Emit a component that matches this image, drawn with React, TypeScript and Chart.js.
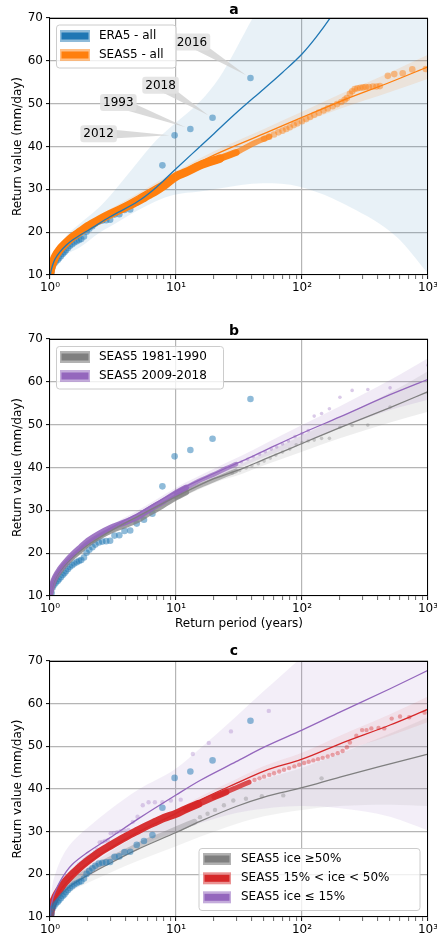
import React, { useEffect, useRef } from "react";
import { Chart, registerables } from "chart.js";
Chart.register(...registerables);

const FONT = "'DejaVu Sans', 'Liberation Sans', sans-serif";
Chart.defaults.font.family = FONT;
Chart.defaults.font.size = 12;
Chart.defaults.color = "#000";

// ---------- labels ----------
const X_TICK_LABELS = ["10⁰", "10¹", "10²", "10³"];
const Y_TITLE = "Return value (mm/day)";
const X_TITLE = "Return period (years)";
const PANEL_TITLES = ["a", "b", "c"];
const LEGEND_A_LABELS = ["ERA5 - all", "SEAS5 - all"];
const LEGEND_B_LABELS = ["SEAS5 1981-1990", "SEAS5 2009-2018"];
const LEGEND_C_LABELS = ["SEAS5 ice ≥50%", "SEAS5 15% < ice < 50%", "SEAS5 ice ≤ 15%"];
const ANNOT_YEARS = ["2016", "2018", "1993", "2012"];

// ---------- ERA5 (all panels) ----------
const ERA5_T = [39, 19.5, 13, 9.75, 7.8, 6.5, 5.57, 4.88, 4.33, 3.9, 3.55, 3.25, 3.0, 2.79, 2.6, 2.44, 2.29, 2.17, 2.05, 1.95, 1.86, 1.77, 1.7, 1.63, 1.56, 1.5, 1.44, 1.39, 1.34, 1.3, 1.26, 1.22, 1.18, 1.15, 1.11, 1.08, 1.05, 1.03];
const ERA5_V = [56.0, 46.7, 44.1, 42.6, 35.6, 29.2, 27.8, 26.9, 25.3, 25.2, 24.2, 24.1, 22.9, 22.8, 22.7, 22.5, 22.0, 21.4, 20.8, 20.1, 19.0, 18.4, 18.2, 17.9, 17.6, 17.2, 16.8, 16.3, 15.8, 15.3, 14.9, 14.4, 13.9, 13.5, 13.1, 12.6, 12.0, 10.7];

// ---------- Panel a ----------
const BLUE_FIT_T = [1.0, 1.01, 1.03, 1.06, 1.1, 1.2, 1.35, 1.5, 1.75, 2, 3, 5, 7, 10, 15, 20, 30, 50, 70, 100, 130, 170, 250];
const BLUE_FIT_V = [9.0, 10.3, 11.5, 12.7, 13.8, 15.4, 17.0, 18.1, 19.4, 20.4, 23.6, 27.2, 30.5, 34.8, 39.6, 43.0, 47.8, 53.5, 57.3, 61.6, 65.6, 70.3, 78.0];
const BLUE_CI_T = [1.0, 1.05, 1.1, 1.3, 1.73, 2.5, 3, 4.56, 7, 9.5, 15.5, 22, 49, 96, 240, 565, 1000];
const BLUE_CI_HI = [10.0, 13.5, 15.2, 18.6, 22.0, 26.0, 28.5, 35.0, 41.5, 45.0, 50.5, 56.0, 74, 85, 100, 110, 120];
const BLUE_CI_LO = [8.0, 11.5, 12.5, 14.5, 16.5, 20.0, 21.3, 24.5, 27.3, 28.7, 29.5, 30.2, 31.4, 30.6, 25.9, 18.9, 10.4];

const ORANGE_DENSE_T = [1.0, 1.02, 1.05, 1.1, 1.2, 1.3, 1.5, 1.75, 2, 2.5, 3, 4, 5, 6, 7, 8, 10, 12, 15.5, 22.4, 30, 41, 55];
const ORANGE_DENSE_V = [10.3, 11.5, 12.8, 14.3, 16.0, 17.1, 18.8, 20.2, 21.4, 23.0, 24.2, 25.9, 27.3, 28.6, 29.7, 30.8, 33.0, 34.0, 35.6, 37.2, 38.6, 40.7, 42.3];
const ORANGE_TAIL_T = [50, 55, 60, 65, 70, 75, 80, 86, 92, 100, 108, 116, 125, 136, 148, 160, 175, 190, 205, 218, 227, 240, 250, 262, 275, 290, 305, 320, 340, 365, 390, 415, 480, 540, 630, 750, 960];
const ORANGE_TAIL_V = [41.8, 42.3, 42.8, 43.3, 43.7, 44.1, 44.5, 45.0, 45.4, 45.9, 46.4, 46.9, 47.4, 47.9, 48.4, 48.9, 49.4, 49.9, 50.4, 50.9, 51.3, 52.3, 52.9, 53.4, 53.6, 53.7, 53.8, 53.9, 53.9, 54.0, 54.0, 54.1, 56.5, 56.9, 57.1, 58.0, 58.1];
const ORANGE_FIT_T = [1.0, 1.02, 1.05, 1.1, 1.2, 1.35, 1.5, 2, 3, 5, 10, 20, 50, 100, 200, 500, 1000];
const ORANGE_FIT_V = [9.8, 11.2, 12.6, 14.1, 15.9, 17.6, 18.9, 21.8, 24.8, 28.5, 33.5, 38.0, 43.0, 46.8, 50.5, 55.0, 58.6];
const ORANGE_CI_HI = [10.5, 11.8, 13.2, 14.7, 16.5, 18.2, 19.5, 22.4, 25.4, 29.1, 34.2, 38.9, 44.1, 48.1, 52.2, 57.3, 61.4];
const ORANGE_CI_LO = [9.1, 10.6, 12.0, 13.5, 15.3, 17.0, 18.3, 21.2, 24.2, 27.9, 32.8, 37.1, 41.9, 45.5, 48.8, 52.7, 55.8];

// ---------- Panel b ----------
const FIT_B_T = [1.0, 1.02, 1.05, 1.1, 1.2, 1.35, 1.5, 2, 3, 5, 10, 20, 34, 50, 100, 200, 500, 1000];
const GRAY_B_FIT = [9.8, 11.2, 12.5, 14.0, 15.8, 17.6, 18.9, 21.9, 25.1, 28.6, 33.2, 37.4, 39.8, 41.9, 45.6, 49.3, 54.0, 57.7];
const GRAY_B_HI = [10.4, 11.8, 13.1, 14.6, 16.4, 18.2, 19.5, 22.5, 25.7, 29.2, 34.0, 38.4, 41.0, 43.3, 47.5, 51.8, 57.5, 62.5];
const GRAY_B_LO = [9.2, 10.6, 11.9, 13.4, 15.2, 17.0, 18.3, 21.3, 24.5, 28.0, 32.4, 36.4, 38.6, 40.5, 43.7, 46.8, 50.5, 53.0];
const PURPLE_B_FIT = [10.0, 11.4, 12.8, 14.3, 16.1, 17.9, 19.3, 22.4, 25.8, 29.3, 34.4, 38.6, 41.6, 43.9, 48.0, 51.8, 57.0, 60.6];
const PURPLE_B_HI = [10.6, 12.0, 13.4, 14.9, 16.7, 18.5, 19.9, 23.0, 26.4, 30.0, 35.3, 39.7, 42.9, 45.4, 49.9, 54.3, 60.4, 65.5];
const PURPLE_B_LO = [9.4, 10.8, 12.2, 13.7, 15.5, 17.3, 18.7, 21.8, 25.2, 28.6, 33.5, 37.5, 40.3, 42.4, 45.8, 49.2, 53.4, 55.8];
const DENSE_B_T = [1.0, 1.02, 1.05, 1.1, 1.2, 1.3, 1.5, 1.75, 2, 2.5, 3, 4, 5, 6, 7, 8, 10, 12, 15, 20, 25, 30];
const PURPLE_B_DENSE = [10.2, 11.6, 13.0, 14.5, 16.3, 17.6, 19.6, 21.4, 22.9, 24.7, 25.9, 27.3, 28.5, 30.0, 31.2, 32.2, 34.0, 35.3, 36.8, 38.4, 39.8, 40.8];
const GRAY_B_DENSE = [10.0, 11.3, 12.6, 14.1, 15.8, 17.1, 19.0, 20.7, 22.2, 24.0, 25.2, 26.6, 27.8, 29.2, 30.3, 31.3, 33.0, 34.2, 35.6, 37.1, 38.3, 39.2];
const PURPLE_B_DOTS_T = [33, 37, 41, 46, 51, 57, 63, 70, 78, 88, 100, 112, 125, 143, 165, 200, 250, 333, 500, 1000];
const PURPLE_B_DOTS_V = [41.3, 41.9, 42.5, 43.1, 43.7, 44.3, 44.8, 45.5, 46.2, 47.2, 47.9, 48.6, 52.0, 52.6, 53.7, 56.4, 58.0, 58.2, 58.6, 63.9];
const GRAY_B_DOTS_T = [28, 32, 36, 40, 45, 50, 56, 62, 70, 80, 90, 100, 112, 125, 143, 165, 200, 250, 333, 500, 1000];
const GRAY_B_DOTS_V = [38.7, 39.3, 39.9, 40.4, 40.9, 41.5, 42.2, 42.9, 43.6, 44.3, 45.3, 45.8, 46.2, 46.4, 46.8, 46.8, 49.4, 49.8, 49.9, 54.1, 57.4];

// ---------- Panel c ----------
const FIT_C_T = [1.0, 1.02, 1.05, 1.1, 1.2, 1.35, 1.5, 2, 3, 5, 10, 15.5, 30, 50, 100, 200, 500, 1000];
const GRAY_C_FIT = [9.6, 10.9, 12.1, 13.3, 14.9, 16.5, 17.6, 19.8, 22.6, 25.9, 29.8, 32.4, 35.9, 38.1, 40.3, 42.8, 45.9, 48.2];
const GRAY_C_HI = [10.2, 11.6, 12.9, 14.3, 16.1, 17.9, 19.2, 21.9, 25.3, 29.2, 33.6, 36.4, 40.0, 42.3, 45.0, 48.3, 53.0, 56.8];
const GRAY_C_LO = [9.0, 10.2, 11.3, 12.3, 13.7, 15.1, 16.1, 18.0, 20.4, 23.2, 26.6, 28.8, 31.8, 33.6, 35.1, 36.0, 36.3, 36.0];
const RED_C_FIT = [10.0, 11.5, 12.9, 14.3, 16.2, 18.1, 19.5, 22.6, 26.1, 29.9, 34.3, 37.4, 41.3, 44.2, 47.0, 50.6, 55.0, 58.7];
const RED_C_HI = [10.3, 11.8, 13.2, 14.6, 16.5, 18.4, 19.9, 23.0, 26.6, 30.5, 35.0, 38.2, 42.3, 45.4, 48.5, 52.5, 57.5, 61.7];
const RED_C_LO = [9.7, 11.2, 12.6, 14.0, 15.9, 17.8, 19.1, 22.2, 25.6, 29.3, 33.6, 36.6, 40.3, 43.0, 45.5, 48.7, 52.5, 55.7];
const PURPLE_C_FIT = [10.2, 12.4, 14.3, 16.0, 18.3, 20.7, 22.3, 25.2, 28.6, 33.0, 38.6, 42.0, 46.4, 49.8, 53.8, 58.0, 63.5, 67.8];
const PURPLE_C_HI = [11.0, 15.0, 17.8, 20.0, 23.0, 25.8, 27.6, 31.0, 35.2, 39.8, 44.8, 49.5, 57.0, 63.0, 71.0, 80.0, 92.0, 100.0];
const PURPLE_C_LO = [9.2, 10.0, 11.0, 12.3, 13.9, 15.6, 16.8, 19.3, 22.8, 26.5, 30.0, 32.0, 34.4, 35.4, 36.0, 35.5, 33.5, 30.3];
const RED_DENSE_T = [1.0, 1.02, 1.05, 1.1, 1.2, 1.3, 1.5, 1.7, 2, 2.5, 3, 4, 5, 6, 7, 8, 10, 12, 15, 20, 25, 30, 38];
const RED_DENSE_V = [10.2, 11.8, 13.2, 14.6, 16.5, 18.0, 20.0, 21.5, 23.2, 25.3, 26.7, 28.8, 30.3, 31.5, 32.4, 33.2, 34.2, 35.3, 36.5, 38.1, 39.3, 40.3, 41.6];
const RED_DOTS_T = [42, 46, 50, 55, 60, 66, 72, 79, 87, 95, 104, 113, 123, 134, 146, 160, 175, 192, 210, 227, 240, 270, 300, 325, 355, 405, 450, 515, 600, 710, 940];
const RED_DOTS_V = [42.1, 42.5, 42.9, 43.3, 43.7, 44.1, 44.5, 44.9, 45.3, 45.7, 46.1, 46.4, 46.7, 47.0, 47.3, 47.6, 48.0, 48.4, 48.9, 49.8, 50.9, 52.5, 53.8, 53.8, 54.2, 54.3, 54.2, 56.5, 57.0, 56.8, 57.9];
const GRAY_C_DENSE_T = [1.0, 1.05, 1.1, 1.2, 1.3, 1.5, 1.75, 2, 2.5, 3, 4, 5, 6, 7, 8, 10, 12, 14];
const GRAY_C_DENSE_V = [10.0, 12.3, 13.6, 15.3, 16.5, 18.1, 19.6, 20.7, 22.3, 23.5, 25.3, 26.7, 27.8, 28.6, 29.3, 30.5, 31.5, 32.3];
const GRAY_C_DOTS_T = [15.5, 17.8, 20.4, 24, 28.5, 35.9, 48, 71, 143];
const GRAY_C_DOTS_V = [33.4, 34.2, 35.1, 36.2, 37.3, 37.7, 38.3, 38.5, 42.5];
const PURPLE_C_DOTS_T = [54.5, 27.3, 18.2, 13.6, 10.9, 9.1, 7.8, 6.8, 6.06, 5.45, 4.95, 4.54, 4.19, 3.89, 3.63, 3.41, 3.21, 3.03, 2.87, 2.73, 2.6, 2.48, 2.37, 2.27, 2.18, 2.1, 2.02, 1.95, 1.88, 1.82, 1.76, 1.7, 1.65, 1.6, 1.56, 1.51, 1.47, 1.43, 1.4, 1.36, 1.33, 1.3, 1.27, 1.24, 1.21, 1.18, 1.16, 1.14, 1.11, 1.09, 1.07, 1.05, 1.03, 1.01];
const PURPLE_C_DOTS_V = [58.3, 53.5, 50.8, 48.2, 37.5, 37.3, 36.9, 36.9, 36.9, 36.2, 33.5, 32.3, 30.4, 30.3, 30.1, 29.9, 29.7, 29.6, 28.0, 27.8, 27.6, 27.5, 25.8, 25.2, 24.6, 24.4, 24.1, 23.7, 23.4, 22.9, 22.6, 22.3, 21.8, 21.0, 20.7, 20.3, 19.9, 19.6, 19.4, 19.3, 19.0, 18.6, 18.0, 17.4, 16.8, 16.3, 15.8, 15.2, 14.5, 13.8, 13.0, 12.2, 11.3, 10.2];

// ---------- colours ----------
const BLUE = "#1f77b4", ORANGE = "#ff7f0e", GRAY = "#7f7f7f", PURPLE = "#9467bd", RED = "#d62728";
const rgba = (hex: string, a: number) => {
  const n = parseInt(hex.slice(1), 16);
  return `rgba(${(n >> 16) & 255},${(n >> 8) & 255},${n & 255},${a})`;
};
const GRID = "#b5b5b5";

// ---------- dataset helpers ----------
const xy = (xs: number[], ys: number[]) => xs.map((x, i) => ({ x, y: ys[i] }));
// a segment [from, to) of a dense series (the dense scatter is drawn as a thick stroke)
const seg = (xs: number[], ys: number[], from: number, to: number) => [xs.slice(from, to), ys.slice(from, to)] as [number[], number[]];

function band(xs: number[], hi: number[], lo: number[], color: string, order: number) {
  return [
    { type: "line", data: xy(xs, hi), pointRadius: 0, borderWidth: 0, borderColor: "rgba(0,0,0,0)", backgroundColor: color, fill: "+1", order, clip: 0, cubicInterpolationMode: "monotone" },
    { type: "line", data: xy(xs, lo), pointRadius: 0, borderWidth: 0, borderColor: "rgba(0,0,0,0)", backgroundColor: "rgba(0,0,0,0)", fill: false, order, clip: 0, cubicInterpolationMode: "monotone" },
  ];
}
function line(xs: number[], ys: number[], color: string, width: number, order: number) {
  return { type: "line", data: xy(xs, ys), borderColor: color, backgroundColor: color, borderWidth: width, pointRadius: 0, fill: false, order, clip: 0, cubicInterpolationMode: "monotone", borderCapStyle: "round", borderJoinStyle: "round" };
}
function thick(s: [number[], number[]], color: string, width: number, order: number) {
  return line(s[0], s[1], color, width, order);
}
function dots(xs: number[], ys: number[], color: string, r: number, order: number) {
  return { type: "scatter", data: xy(xs, ys), pointRadius: r, backgroundColor: color, borderColor: "rgba(0,0,0,0)", pointBorderWidth: 0, borderWidth: 0, order, clip: 0 };
}

// ---------- panel specs ----------
type LegendItem = { label: string; outer: string; inner: string };
const SPEC_A = {
  id: "a", top: 0, height: 300, padTop: 18, xAxisH: 25, titleY: 13.5, xTitle: false,
  legend: { x: 56.5, y: 25, w: 119.5, h: 43, px: 60, pw: 30, tx: 99, cys: [36, 55],
    items: [
      { label: LEGEND_A_LABELS[0], outer: rgba(BLUE, 0.5), inner: BLUE },
      { label: LEGEND_A_LABELS[1], outer: rgba(ORANGE, 0.5), inner: ORANGE },
    ] as LegendItem[] },
  annotations: [
    { idx: 0, label: ANNOT_YEARS[0], dx: -58.5, dy: -36 },
    { idx: 1, label: ANNOT_YEARS[1], dx: -52, dy: -32.5 },
    { idx: 2, label: ANNOT_YEARS[2], dx: -72, dy: -26.5 },
    { idx: 3, label: ANNOT_YEARS[3], dx: -76, dy: -1.5 },
  ],
  datasets: [
    ...band(BLUE_CI_T, BLUE_CI_HI, BLUE_CI_LO, rgba(BLUE, 0.1), 30),
    ...band(ORANGE_FIT_T, ORANGE_CI_HI, ORANGE_CI_LO, rgba(ORANGE, 0.12), 29),
    dots(ERA5_T, ERA5_V, rgba(BLUE, 0.5), 3.3, 20),
    dots(ORANGE_TAIL_T, ORANGE_TAIL_V, rgba(ORANGE, 0.45), 3.3, 17),
    thick(seg(ORANGE_DENSE_T, ORANGE_DENSE_V, 19, 23), rgba(ORANGE, 0.7), 5.5, 16),
    thick(seg(ORANGE_DENSE_T, ORANGE_DENSE_V, 17, 21), rgba(ORANGE, 0.9), 7, 15),
    thick(seg(ORANGE_DENSE_T, ORANGE_DENSE_V, 0, 20), ORANGE, 8.5, 14),
    line(ORANGE_FIT_T, ORANGE_FIT_V, ORANGE, 1.3, 5),
    line(BLUE_FIT_T, BLUE_FIT_V, BLUE, 1.3, 4),
  ],
};
const SPEC_B = {
  id: "b", top: 300, height: 331, padTop: 39, xAxisH: 35, titleY: 35, xTitle: true,
  legend: { x: 56.5, y: 46.5, w: 167, h: 42.5, px: 60, pw: 30, tx: 99, cys: [57, 76],
    items: [
      { label: LEGEND_B_LABELS[0], outer: rgba(GRAY, 0.6), inner: GRAY },
      { label: LEGEND_B_LABELS[1], outer: rgba(PURPLE, 0.55), inner: PURPLE },
    ] as LegendItem[] },
  annotations: [],
  datasets: [
    ...band(FIT_B_T, GRAY_B_HI, GRAY_B_LO, rgba(GRAY, 0.13), 30),
    ...band(FIT_B_T, PURPLE_B_HI, PURPLE_B_LO, rgba(PURPLE, 0.13), 29),
    dots(ERA5_T, ERA5_V, rgba(BLUE, 0.5), 3.3, 20),
    thick(seg(DENSE_B_T, GRAY_B_DENSE, 16, 22), rgba(GRAY, 0.55), 4.5, 16),
    thick(seg(DENSE_B_T, GRAY_B_DENSE, 0, 18), rgba(GRAY, 0.75), 6, 15),
    thick(seg(DENSE_B_T, PURPLE_B_DENSE, 16, 22), rgba(PURPLE, 0.72), 4.5, 14),
    thick(seg(DENSE_B_T, PURPLE_B_DENSE, 0, 18), rgba(PURPLE, 0.88), 6, 13),
    dots(GRAY_B_DOTS_T, GRAY_B_DOTS_V, rgba(GRAY, 0.35), 1.8, 12),
    dots(PURPLE_B_DOTS_T, PURPLE_B_DOTS_V, rgba(PURPLE, 0.35), 1.8, 11),
    line(FIT_B_T, GRAY_B_FIT, GRAY, 1.3, 5),
    line(FIT_B_T, PURPLE_B_FIT, PURPLE, 1.3, 4),
  ],
};
const SPEC_C = {
  id: "c", top: 631, height: 306, padTop: 30, xAxisH: 20, titleY: 24, xTitle: false,
  legend: { x: 199, y: 217.5, w: 221, h: 62, px: 203, pw: 28, tx: 241, cys: [228, 247.3, 266.3],
    items: [
      { label: LEGEND_C_LABELS[0], outer: rgba(GRAY, 0.6), inner: GRAY },
      { label: LEGEND_C_LABELS[1], outer: rgba(RED, 0.5), inner: RED },
      { label: LEGEND_C_LABELS[2], outer: rgba(PURPLE, 0.55), inner: PURPLE },
    ] as LegendItem[] },
  annotations: [],
  datasets: [
    ...band(FIT_C_T, PURPLE_C_HI, PURPLE_C_LO, rgba(PURPLE, 0.11), 30),
    ...band(FIT_C_T, GRAY_C_HI, GRAY_C_LO, rgba(GRAY, 0.1), 29),
    ...band(FIT_C_T, RED_C_HI, RED_C_LO, rgba(RED, 0.08), 28),
    thick([GRAY_C_DENSE_T, GRAY_C_DENSE_V], rgba(GRAY, 0.35), 6, 20),
    dots(GRAY_C_DOTS_T, GRAY_C_DOTS_V, rgba(GRAY, 0.35), 2.2, 19),
    dots(PURPLE_C_DOTS_T, PURPLE_C_DOTS_V, rgba(PURPLE, 0.3), 2.2, 18),
    dots(RED_DOTS_T, RED_DOTS_V, rgba(RED, 0.38), 2.2, 17),
    thick(seg(RED_DENSE_T, RED_DENSE_V, 19, 23), rgba(RED, 0.8), 5, 16),
    thick(seg(RED_DENSE_T, RED_DENSE_V, 17, 21), rgba(RED, 0.9), 6.5, 15),
    thick(seg(RED_DENSE_T, RED_DENSE_V, 0, 19), rgba(RED, 0.95), 8, 14),
    line(FIT_C_T, GRAY_C_FIT, GRAY, 1.3, 5),
    line(FIT_C_T, RED_C_FIT, RED, 1.3, 4),
    line(FIT_C_T, PURPLE_C_FIT, PURPLE, 1.3, 3),
    dots(ERA5_T, ERA5_V, rgba(BLUE, 0.5), 3.3, 1),
  ],
};
const SPECS = [SPEC_A, SPEC_B, SPEC_C];

// ---------- drawing helpers ----------
const isPow10 = (v: number) => {
  if (!(v > 0)) return false;
  const e = Math.log10(v);
  return Math.abs(e - Math.round(e)) < 1e-6;
};
const isWholeMantissa = (v: number) => {
  const m = v / Math.pow(10, Math.floor(Math.log10(v) + 1e-9));
  return Math.abs(m - Math.round(m)) < 1e-6;
};

function drawLegend(ctx: CanvasRenderingContext2D, lg: any) {
  ctx.save();
  ctx.beginPath();
  (ctx as any).roundRect(lg.x, lg.y, lg.w, lg.h, 3);
  ctx.fillStyle = "rgba(255,255,255,0.8)";
  ctx.fill();
  ctx.strokeStyle = "#cccccc";
  ctx.lineWidth = 1;
  ctx.stroke();
  lg.items.forEach((it: LegendItem, i: number) => {
    const cy = lg.cys[i];
    ctx.fillStyle = it.outer;
    ctx.fillRect(lg.px, cy - 6, lg.pw, 12);
    ctx.fillStyle = it.inner;
    ctx.fillRect(lg.px + 1.5, cy - 3.5, lg.pw - 3, 7);
    ctx.fillStyle = "#000";
    ctx.font = `12px ${FONT}`;
    ctx.textAlign = "left";
    ctx.textBaseline = "middle";
    ctx.fillText(it.label, lg.tx, cy);
  });
  ctx.restore();
}

function drawAnnotations(chart: any, anns: any[]) {
  const { ctx } = chart;
  const xs = chart.scales.x, ys = chart.scales.y;
  ctx.save();
  anns.forEach((an) => {
    const px = xs.getPixelForValue(ERA5_T[an.idx]);
    const py = ys.getPixelForValue(ERA5_V[an.idx]);
    const bx = px + an.dx, by = py + an.dy;
    const ang = Math.atan2(py - by, px - bx);
    const dist = Math.hypot(px - bx, py - by);
    const tx = bx + Math.cos(ang) * (dist - 5), ty = by + Math.sin(ang) * (dist - 5);
    const hw = 5.5;
    const nx = -Math.sin(ang) * hw, ny = Math.cos(ang) * hw;
    ctx.beginPath();
    ctx.moveTo(bx + nx, by + ny);
    ctx.lineTo(tx, ty);
    ctx.lineTo(bx - nx, by - ny);
    ctx.closePath();
    ctx.fillStyle = "rgba(205,205,205,0.75)";
    ctx.fill();
    ctx.font = `12px ${FONT}`;
    const w = ctx.measureText(an.label).width + 6, h = 17;
    ctx.beginPath();
    ctx.roundRect(bx - w / 2, by - h / 2, w, h, 3);
    ctx.fillStyle = "rgba(226,226,226,0.9)";
    ctx.fill();
    ctx.fillStyle = "#000";
    ctx.textAlign = "center";
    ctx.textBaseline = "middle";
    ctx.fillText(an.label, bx, by + 0.5);
  });
  ctx.restore();
}

function makeFramePlugin(spec: any, title: string) {
  return {
    id: "frame_" + spec.id,
    afterDatasetsDraw(chart: any) {
      if (spec.annotations.length) drawAnnotations(chart, spec.annotations);
    },
    afterDraw(chart: any) {
      const { ctx, chartArea: a } = chart;
      ctx.save();
      ctx.strokeStyle = "#000";
      ctx.lineWidth = 1;
      ctx.strokeRect(a.left - 0.5, a.top + 0.5, a.right - a.left, a.bottom - a.top - 1);
      ctx.font = `bold 14px ${FONT}`;
      ctx.fillStyle = "#000";
      ctx.textAlign = "center";
      ctx.textBaseline = "alphabetic";
      ctx.fillText(title, 234, spec.titleY);
      ctx.restore();
      drawLegend(ctx, spec.legend);
    },
  };
}

function buildConfig(spec: any, title: string): any {
  const font = { family: FONT, size: 12 };
  return {
    type: "scatter",
    data: { datasets: spec.datasets },
    options: {
      animation: false,
      responsive: false,
      devicePixelRatio: 1,
      events: [],
      layout: { padding: { top: spec.padTop, right: 9, left: 0, bottom: 0 } },
      plugins: { legend: { display: false }, tooltip: { enabled: false }, title: { display: false } },
      scales: {
        x: {
          type: "logarithmic",
          min: 1,
          max: 1000,
          afterBuildTicks: (s: any) => {
            s.ticks = s.ticks.filter((t: any) => isWholeMantissa(t.value));
          },
          afterFit: (s: any) => {
            s.height = spec.xAxisH;
            s.paddingLeft = 0;
            s.paddingRight = 0;
          },
          border: { display: false },
          grid: {
            color: (c: any) => (c.tick && isPow10(c.tick.value) ? GRID : "rgba(0,0,0,0)"),
            lineWidth: 1.2,
            tickColor: "#000",
            tickLength: 4,
            tickWidth: (c: any) => (c.tick && isPow10(c.tick.value) ? 1 : 0.6),
          },
          ticks: {
            autoSkip: false,
            maxRotation: 0,
            minRotation: 0,
            padding: 2,
            font,
            color: "#000",
            callback: (v: any) => (isPow10(Number(v)) ? X_TICK_LABELS[Math.round(Math.log10(Number(v)))] : ""),
          },
          title: spec.xTitle
            ? { display: true, text: X_TITLE, font, color: "#000", padding: { top: 0, bottom: 0 } }
            : { display: false },
        },
        y: {
          type: "linear",
          min: 10,
          max: 70,
          afterFit: (s: any) => {
            s.width = 50;
            s.paddingTop = 0;
            s.paddingBottom = 0;
          },
          border: { display: false },
          grid: { color: GRID, lineWidth: 1.2, tickColor: "#000", tickLength: 4, tickWidth: 1 },
          ticks: { stepSize: 10, padding: 3, font, color: "#000" },
          title: { display: true, text: Y_TITLE, font, color: "#000", padding: { top: 11, bottom: 0 } },
        },
      },
    },
    plugins: [makeFramePlugin(spec, title)],
  };
}

function Panel({ spec, title }: { spec: any; title: string }) {
  const ref = useRef<HTMLCanvasElement>(null);
  useEffect(() => {
    if (!ref.current) return;
    const chart = new Chart(ref.current, buildConfig(spec, title));
    return () => chart.destroy();
  }, [spec, title]);
  return (
    <canvas
      ref={ref}
      width={437}
      height={spec.height}
      style={{ position: "absolute", left: 0, top: spec.top, width: 437, height: spec.height, display: "block" }}
    />
  );
}

export default function App() {
  return (
    <div style={{ position: "absolute", left: 0, top: 0, width: 437, height: 937, background: "#fff", overflow: "hidden" }}>
      {SPECS.map((s, i) => (
        <Panel key={s.id} spec={s} title={PANEL_TITLES[i]} />
      ))}
    </div>
  );
}
